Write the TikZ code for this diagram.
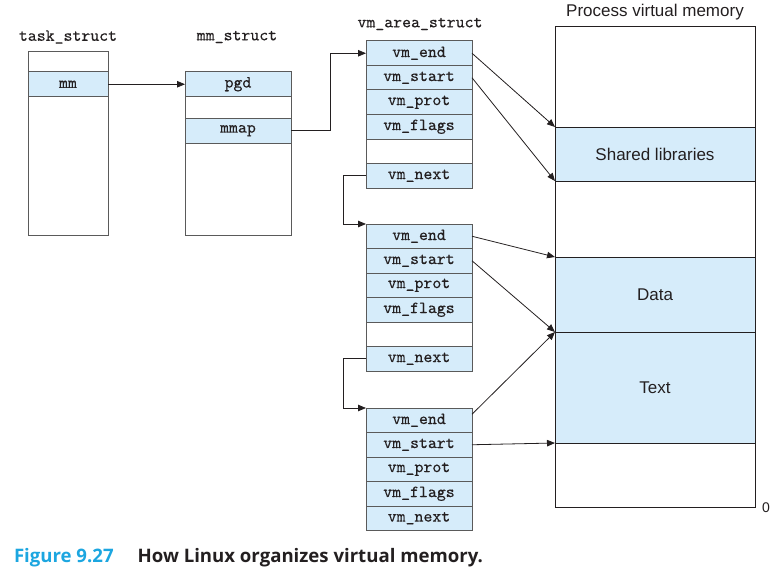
\documentclass[tikz,border=0pt]{standalone}
\usepackage{fontspec}
\setsansfont{Liberation Sans}
\setmonofont{lmmono10-regular.otf}[FakeBold=0.35]
\newfontfamily\capfont{Open Sans}
\usetikzlibrary{arrows.meta}

\definecolor{cellblue}{RGB}{214,236,250}
\definecolor{edge}{RGB}{90,90,90}
\definecolor{ink}{RGB}{35,31,32}
\definecolor{capblue}{RGB}{28,166,224}

\tikzset{
  every node/.style={inner sep=0pt, outer sep=0pt},
  ttlab/.style={font=\ttfamily\fontsize{17}{17}\selectfont, text=ink},
  sflab/.style={font=\sffamily\fontsize{17}{17}\selectfont, text=ink},
  fld/.style={draw=edge, line width=1pt, fill=cellblue, anchor=north west,
    minimum width=106pt, minimum height=24.5pt, ttlab},
  gap/.style={fld, fill=white},
  frame/.style={draw=edge, line width=1pt, fill=white, anchor=north west},
  band/.style={draw=ink, line width=1pt, fill=cellblue, anchor=north west,
    minimum width=200pt, sflab},
  link/.style={draw=ink, line width=0.8pt, -{Triangle[length=8pt,width=6.5pt]}},
}

\begin{document}
\begin{tikzpicture}[x=1pt, y=-1pt]
\useasboundingbox (0,0) rectangle (777,578);

% task_struct
\node[ttlab] (tslab) at (68,37) {task\_struct};
\node[frame, minimum width=80pt, minimum height=183pt] (ts) at (28,52) {};
\node[fld, minimum width=80pt] (mm) at (28,72) {mm};

% mm_struct
\node[ttlab] (mmlab) at (237,37) {mm\_struct};
\node[frame, minimum width=106pt, minimum height=163pt] (mms) at (185,72) {};
\node[fld] (pgd) at (185,72) {pgd};
\node[fld] (mmap) at (185,118.5) {mmap};

% first vm_area_struct
\node[ttlab] (valab) at (420,24) {vm\_area\_struct};
\node[fld] (e1) at (366,41) {vm\_end};
\node[fld] (s1) at (366,65.5) {vm\_start};
\node[fld] (p1) at (366,90) {vm\_prot};
\node[fld] (f1) at (366,114.5) {vm\_flags};
\node[gap] (g1) at (366,139) {};
\node[fld] (n1) at (366,163.5) {vm\_next};

% second vm_area_struct
\node[fld] (e2) at (366,224) {vm\_end};
\node[fld] (s2) at (366,248.5) {vm\_start};
\node[fld] (p2) at (366,273) {vm\_prot};
\node[fld] (f2) at (366,297.5) {vm\_flags};
\node[gap] (g2) at (366,322) {};
\node[fld] (n2) at (366,346.5) {vm\_next};

% third vm_area_struct
\node[fld] (e3) at (366,408) {vm\_end};
\node[fld] (s3) at (366,432.5) {vm\_start};
\node[fld] (p3) at (366,457) {vm\_prot};
\node[fld] (f3) at (366,481.5) {vm\_flags};
\node[fld] (n3) at (366,506) {vm\_next};

% process virtual memory
\node[sflab] (pvlab) at (655,12) {Process virtual memory};
\node[frame, draw=ink, minimum width=200pt, minimum height=480pt] (pvm) at (555,27) {};
\node[band, minimum height=54pt] (shared) at (555,127) {Shared libraries};
\node[band, minimum height=75pt] (data) at (555,257) {Data};
\node[band, minimum height=111pt] (text) at (555,332) {Text};
\node[sflab, font=\sffamily\fontsize{14}{14}\selectfont, anchor=west] (zero) at (762,508) {0};

% pointers between structures
\draw[link] (mm.east) -- (pgd.west);
\draw[link] (mmap.east) -- ++(39,0) |- (e1.west);
\draw[link] (n1.west) -- ++(-23,0) |- (e2.north west);
\draw[link] (n2.west) -- ++(-23,0) |- (e3.north west);

% area bounds into the address space
\draw[link] (e1.east) -- (shared.north west);
\draw[link] (s1.east) -- (shared.south west);
\draw[link] (e2.east) -- (data.north west);
\draw[link] (s2.east) -- (data.south west);
\draw[link] ([yshift=6pt]e3.east) -- (text.north west);
\draw[link] (s3.east) -- (text.south west);

% caption
\node[anchor=west, font=\capfont\bfseries\fontsize{18.6}{18.6}\selectfont] (cap) at (14,558)
  {\textcolor{capblue}{Figure 9.27}\hspace{24pt}\textcolor{ink}{How Linux organizes virtual memory.}};
\end{tikzpicture}
\end{document}
